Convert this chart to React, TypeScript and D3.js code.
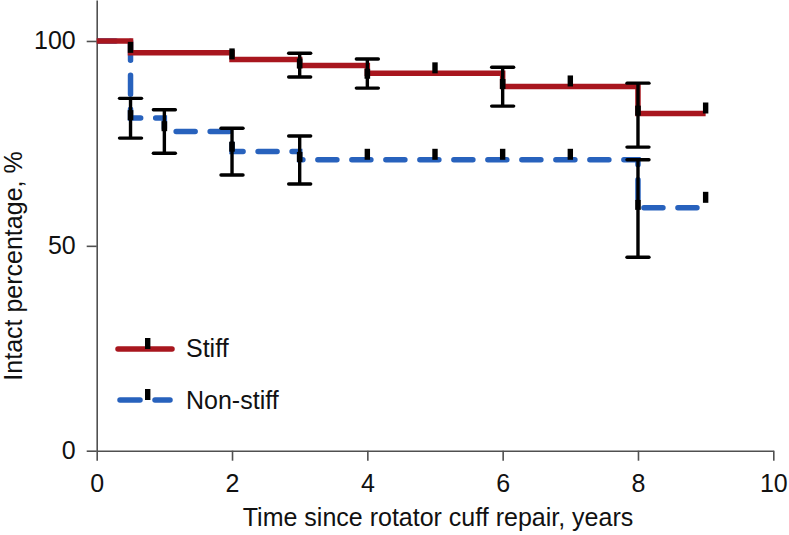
import React, { useEffect, useRef } from "react";
import * as d3 from "d3";

// ---- data ----
const stiffSteps: [number, number][] = [
  [0, 100], [0.5, 97.1], [2, 95.5], [3, 94.0], [4, 92.1], [6, 88.9], [8, 82.3], [9, 82.3],
];
const nonStiffSteps: [number, number][] = [
  [0, 100], [0.5, 81.2], [1, 77.9], [2, 73.0], [3, 71.0], [8, 59.3], [9, 59.3],
];
// error bars: [time, centre, low, high]
const stiffErrors: [number, number, number, number][] = [
  [3, 94.5, 91.2, 97.0], [4, 92.0, 88.5, 95.6], [6, 89.5, 84.1, 93.6], [8, 83.0, 74.1, 89.7],
];
const nonStiffErrors: [number, number, number, number][] = [
  [0.5, 81.9, 76.3, 86.0], [1, 79.2, 72.6, 83.2], [2, 74.2, 67.3, 78.7], [3, 71.7, 65.1, 76.8], [8, 60.0, 47.2, 71.0],
];
// censor marks: [time, value]
const stiffCensors: [number, number][] = [[0.5, 97.1], [2, 95.5], [5, 92.1], [7, 88.9], [9, 82.3]];
const nonStiffCensors: [number, number][] = [[4, 71.0], [5, 71.0], [6, 71.0], [7, 71.0], [9, 60.5]];
const xTicks = [0, 2, 4, 6, 8, 10];
const yTicks = [0, 50, 100];
const seriesNames = ["Stiff", "Non-stiff"];
const xTitle = "Time since rotator cuff repair, years";
const yTitle = "Intact percentage, %";

const RED = "#a8161e";
const BLUE = "#2862bd";
const FONT = "'Liberation Sans', Arial, Helvetica, sans-serif";
const FS = 25;

export default function App() {
  const xAxisRef = useRef<SVGGElement>(null);
  const yAxisRef = useRef<SVGGElement>(null);

  const x = d3.scaleLinear().domain([0, 10]).range([96.7, 773.3]);
  const y = d3.scaleLinear().domain([0, 110]).range([450.7, 0]);

  useEffect(() => {
    const xa = d3.select(xAxisRef.current!);
    xa.selectAll("*").remove();
    xa.call(d3.axisBottom(x).tickValues(xTicks).tickFormat(d3.format("d")).tickSize(10).tickSizeOuter(0).tickPadding(14));
    const ya = d3.select(yAxisRef.current!);
    ya.selectAll("*").remove();
    ya.call(d3.axisLeft(y).tickValues(yTicks).tickFormat(d3.format("d")).tickSize(10).tickSizeOuter(0).tickPadding(11));
    for (const a of [xa, ya]) {
      a.select(".domain").attr("stroke", "#505050").attr("stroke-width", 1.6);
      a.selectAll(".tick line").attr("stroke", "#505050").attr("stroke-width", 1.6);
      a.selectAll(".tick text").attr("fill", "#111").attr("font-size", FS).attr("font-family", FONT);
      a.attr("font-family", FONT);
    }
  }, []);

  const line = d3.line<[number, number]>().x((d) => x(d[0])).y((d) => y(d[1])).curve(d3.curveStepAfter);

  const errorBar = (e: [number, number, number, number], i: number) => {
    const cx = x(e[0]);
    return (
      <g key={i} stroke="#000" strokeWidth={3.4}>
        <line x1={cx} x2={cx} y1={y(e[2])} y2={y(e[3])} />
        <line x1={cx - 11} x2={cx + 11} y1={y(e[2])} y2={y(e[2])} strokeLinecap="round" />
        <line x1={cx - 11} x2={cx + 11} y1={y(e[3])} y2={y(e[3])} strokeLinecap="round" />
        <rect x={cx - 2.8} y={y(e[1]) - 5} width={5.6} height={10} fill="#000" stroke="none" />
      </g>
    );
  };
  const censor = (c: [number, number], i: number) => (
    <rect key={i} x={x(c[0]) - 2.7} y={y(c[1]) - 11} width={5.4} height={11} fill="#000" />
  );

  return (
    <svg width={789} height={535} style={{ position: "absolute", left: 0, top: 0, background: "#fff" }} fontFamily={FONT}>
      <defs>
        <clipPath id="plotClip">
          <rect x={x(0) + 1} y={0} width={700} height={460} />
        </clipPath>
      </defs>
      <rect width={789} height={535} fill="#fff" />
      <g ref={xAxisRef} transform={`translate(0,${y(0)})`} />
      <g ref={yAxisRef} transform={`translate(${x(0)},0)`} />

      {/* non-stiff series */}
      <path d={line(nonStiffSteps) || ""} fill="none" stroke={BLUE} strokeWidth={5.5} strokeDasharray="19 15" strokeLinecap="round" clipPath="url(#plotClip)" />
      {/* stiff series */}
      <path d={line(stiffSteps) || ""} fill="none" stroke={RED} strokeWidth={5.5} />

      {stiffErrors.map(errorBar)}
      {nonStiffErrors.map(errorBar)}
      {stiffCensors.map(censor)}
      {nonStiffCensors.map(censor)}

      {/* legend */}
      <g>
        <line x1={118} x2={172} y1={349} y2={349} stroke={RED} strokeWidth={5.5} strokeLinecap="round" />
        <rect x={145} y={338} width={5.4} height={11} fill="#000" />
        <text x={186} y={357} fontSize={FS} fill="#111">{seriesNames[0]}</text>
        <line x1={120} x2={140} y1={400} y2={400} stroke={BLUE} strokeWidth={5.5} strokeLinecap="round" />
        <line x1={155} x2={170} y1={400} y2={400} stroke={BLUE} strokeWidth={5.5} strokeLinecap="round" />
        <rect x={145} y={389} width={5.4} height={11} fill="#000" />
        <text x={186} y={409} fontSize={FS} fill="#111">{seriesNames[1]}</text>
      </g>

      <text x={(x(0) + x(10)) / 2 + 3} y={526} fontSize={FS} textAnchor="middle" fill="#111">{xTitle}</text>
      <text transform={`translate(22,${266}) rotate(-90)`} fontSize={FS} textAnchor="middle" fill="#111">{yTitle}</text>
    </svg>
  );
}
